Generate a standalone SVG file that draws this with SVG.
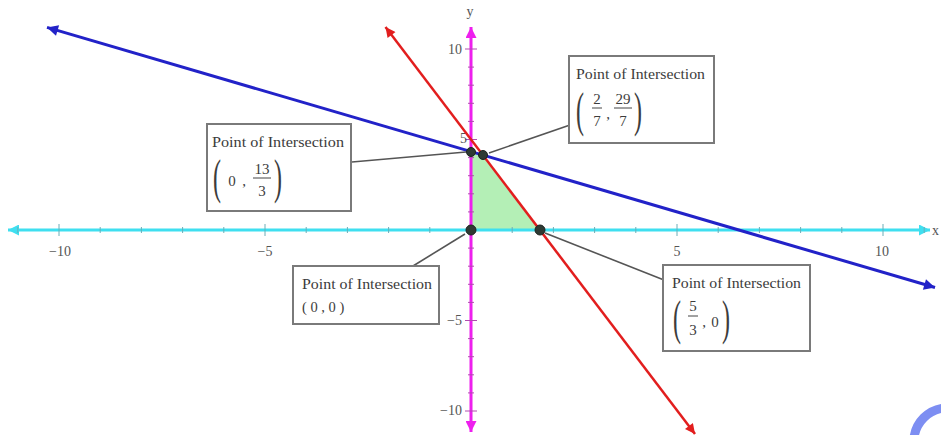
<svg xmlns="http://www.w3.org/2000/svg" width="941" height="435" viewBox="0 0 941 435">
<defs>
<style>
.lbl{font-family:"Liberation Serif","Times New Roman",serif;fill:#3c3c3c;}
.t{font-size:14.5px;}
.f{font-size:15px;}
.par{font-size:48px;}
.tick{font-family:"Liberation Serif","Times New Roman",serif;font-size:14px;fill:#555;}
.box{fill:#fff;stroke:#7a7a7a;stroke-width:2;}
.bar{stroke:#444;stroke-width:1;}
.lead{stroke:#555;stroke-width:1.6;fill:none;}
.dot{fill:#2e3a33;stroke:#1e2420;stroke-width:1;}
</style>
<marker id="aC" viewBox="0 0 10 10" refX="10" refY="5" markerWidth="15" markerHeight="11" markerUnits="userSpaceOnUse" orient="auto-start-reverse"><path d="M0,0 L10,5 L0,10 z" fill="#3fdff0"/></marker>
<marker id="aM" viewBox="0 0 10 10" refX="10" refY="5" markerWidth="15" markerHeight="11" markerUnits="userSpaceOnUse" orient="auto-start-reverse"><path d="M0,0 L10,5 L0,10 z" fill="#ee1fee"/></marker>
<marker id="aB" viewBox="0 0 10 10" refX="10" refY="5" markerWidth="15" markerHeight="11" markerUnits="userSpaceOnUse" orient="auto-start-reverse"><path d="M0,0 L10,5 L0,10 z" fill="#2222c8"/></marker>
<marker id="aR" viewBox="0 0 10 10" refX="10" refY="5" markerWidth="14" markerHeight="10" markerUnits="userSpaceOnUse" orient="auto-start-reverse"><path d="M0,0 L10,5 L0,10 z" fill="#e21e1e"/></marker>
</defs>
<rect width="941" height="435" fill="#fff"/>

<!-- feasible region -->
<polygon points="471,230 471,151.6 482.8,155 539.7,230" fill="#b4efb6"/>

<!-- x axis -->
<g id="x-axis">
<line x1="8" y1="230" x2="930" y2="230" stroke="#3fdff0" stroke-width="3" marker-start="url(#aC)" marker-end="url(#aC)"/>
<g stroke="#6aaeb8" stroke-width="1">
<line x1="59.0" y1="224" x2="59.0" y2="236"/><line x1="100.2" y1="227" x2="100.2" y2="233"/><line x1="141.4" y1="227" x2="141.4" y2="233"/><line x1="182.6" y1="227" x2="182.6" y2="233"/><line x1="223.8" y1="227" x2="223.8" y2="233"/>
<line x1="265.0" y1="224" x2="265.0" y2="236"/><line x1="306.2" y1="227" x2="306.2" y2="233"/><line x1="347.4" y1="227" x2="347.4" y2="233"/><line x1="388.6" y1="227" x2="388.6" y2="233"/><line x1="429.8" y1="227" x2="429.8" y2="233"/>
<line x1="512.2" y1="227" x2="512.2" y2="233"/><line x1="553.4" y1="227" x2="553.4" y2="233"/><line x1="594.6" y1="227" x2="594.6" y2="233"/><line x1="635.8" y1="227" x2="635.8" y2="233"/><line x1="677.0" y1="224" x2="677.0" y2="236"/>
<line x1="718.2" y1="227" x2="718.2" y2="233"/><line x1="759.4" y1="227" x2="759.4" y2="233"/><line x1="800.6" y1="227" x2="800.6" y2="233"/><line x1="841.8" y1="227" x2="841.8" y2="233"/><line x1="883.0" y1="224" x2="883.0" y2="236"/>
<line x1="17.8" y1="227" x2="17.8" y2="233"/><line x1="924.2" y1="227" x2="924.2" y2="233"/>
</g>
<text class="tick" x="60" y="256" text-anchor="middle">−10</text>
<text class="tick" x="265" y="256" text-anchor="middle">−5</text>
<text class="tick" x="677" y="256" text-anchor="middle">5</text>
<text class="tick" x="882" y="256" text-anchor="middle">10</text>
<text class="tick" x="932" y="235" font-size="12">x</text>
</g>

<!-- y axis -->
<g id="y-axis">
<line x1="471" y1="432" x2="471" y2="27" stroke="#ee1fee" stroke-width="3" marker-start="url(#aM)" marker-end="url(#aM)"/>
<g stroke="#b04cb0" stroke-width="1">
<line x1="465" y1="49" x2="477" y2="49"/><line x1="468" y1="67.1" x2="474" y2="67.1"/><line x1="468" y1="85.2" x2="474" y2="85.2"/><line x1="468" y1="103.3" x2="474" y2="103.3"/><line x1="468" y1="121.4" x2="474" y2="121.4"/>
<line x1="465" y1="139.5" x2="477" y2="139.5"/><line x1="468" y1="157.6" x2="474" y2="157.6"/><line x1="468" y1="175.7" x2="474" y2="175.7"/><line x1="468" y1="193.8" x2="474" y2="193.8"/><line x1="468" y1="211.9" x2="474" y2="211.9"/>
<line x1="468" y1="248.1" x2="474" y2="248.1"/><line x1="468" y1="266.2" x2="474" y2="266.2"/><line x1="468" y1="284.3" x2="474" y2="284.3"/><line x1="468" y1="302.4" x2="474" y2="302.4"/><line x1="465" y1="320.5" x2="477" y2="320.5"/>
<line x1="468" y1="338.6" x2="474" y2="338.6"/><line x1="468" y1="356.7" x2="474" y2="356.7"/><line x1="468" y1="374.8" x2="474" y2="374.8"/><line x1="468" y1="392.9" x2="474" y2="392.9"/><line x1="465" y1="411" x2="477" y2="411"/>
</g>
<text class="tick" x="462" y="54" text-anchor="end">10</text>
<text class="tick" x="467" y="143" text-anchor="end" font-size="11">5</text>
<text class="tick" x="462" y="325" text-anchor="end">−5</text>
<text class="tick" x="462" y="415" text-anchor="end">−10</text>
<text class="tick" x="470" y="16" text-anchor="middle">y</text>
</g>

<!-- lines -->
<g id="plot-lines">
<line x1="47" y1="27.4" x2="935" y2="287.5" stroke="#2222c8" stroke-width="3" marker-start="url(#aB)" marker-end="url(#aB)"/>
<line x1="385.5" y1="27" x2="695" y2="434" stroke="#e21e1e" stroke-width="2.5" marker-start="url(#aR)" marker-end="url(#aR)"/>
</g>

<!-- connectors -->
<g id="connectors">
<line class="lead" x1="352" y1="162" x2="466" y2="152"/>
<line class="lead" x1="489" y1="153" x2="570" y2="125"/>
<line class="lead" x1="413" y1="266" x2="465" y2="234"/>
<line class="lead" x1="545" y1="233" x2="664" y2="280"/>
</g>

<!-- points -->
<g id="pt-0-13-3"><circle class="dot" cx="471" cy="152" r="4.5"/></g>
<g id="pt-2-7-29-7"><circle class="dot" cx="483" cy="155" r="4.5"/></g>
<g id="pt-0-0"><circle class="dot" cx="471" cy="230" r="5"/></g>
<g id="pt-5-3-0"><circle class="dot" cx="540" cy="230" r="5"/></g>

<!-- labels -->
<g id="label-0-13-3">
<rect class="box" x="207" y="124" width="144" height="87"/>
<text class="lbl t" x="212" y="147" textLength="132" lengthAdjust="spacingAndGlyphs">Point of Intersection</text>
<text class="lbl par" x="213" y="193" transform="translate(213 0) scale(0.5 1) translate(-213 0)">(</text>
<text class="lbl f" x="232" y="186" text-anchor="middle">0</text>
<text class="lbl f" x="244" y="186" text-anchor="middle">,</text>
<text class="lbl f" x="262" y="174" text-anchor="middle">13</text>
<line class="bar" x1="253" y1="178" x2="271" y2="178"/>
<text class="lbl f" x="262" y="196" text-anchor="middle">3</text>
<text class="lbl par" x="274" y="193" transform="translate(274 0) scale(0.5 1) translate(-274 0)">)</text>
</g>

<g id="label-2-7-29-7">
<rect class="box" x="569" y="56" width="145" height="87"/>
<text class="lbl t" x="576" y="79" textLength="129" lengthAdjust="spacingAndGlyphs">Point of Intersection</text>
<text class="lbl par" x="576" y="126" transform="translate(576 0) scale(0.5 1) translate(-576 0)">(</text>
<text class="lbl f" x="597" y="104" text-anchor="middle">2</text>
<line class="bar" x1="592" y1="108" x2="602" y2="108"/>
<text class="lbl f" x="597" y="126" text-anchor="middle">7</text>
<text class="lbl f" x="608" y="119" text-anchor="middle">,</text>
<text class="lbl f" x="623" y="104" text-anchor="middle">29</text>
<line class="bar" x1="614" y1="108" x2="632" y2="108"/>
<text class="lbl f" x="623" y="126" text-anchor="middle">7</text>
<text class="lbl par" x="634" y="126" transform="translate(634 0) scale(0.5 1) translate(-634 0)">)</text>
</g>

<g id="label-0-0">
<rect class="box" x="293" y="266" width="146" height="58"/>
<text class="lbl t" x="302" y="289" textLength="130" lengthAdjust="spacingAndGlyphs">Point of Intersection</text>
<text class="lbl t" x="302" y="312" font-size="15">( 0 , 0 )</text>
</g>

<g id="label-5-3-0">
<rect class="box" x="663" y="265" width="147" height="86"/>
<text class="lbl t" x="672" y="288" textLength="129" lengthAdjust="spacingAndGlyphs">Point of Intersection</text>
<text class="lbl par" x="673" y="334" transform="translate(673 0) scale(0.5 1) translate(-673 0)">(</text>
<text class="lbl f" x="693" y="311" text-anchor="middle">5</text>
<line class="bar" x1="688" y1="316" x2="698" y2="316"/>
<text class="lbl f" x="693" y="335" text-anchor="middle">3</text>
<text class="lbl f" x="704" y="327" text-anchor="middle">,</text>
<text class="lbl f" x="715" y="327" text-anchor="middle">0</text>
<text class="lbl par" x="722" y="334" transform="translate(722 0) scale(0.5 1) translate(-722 0)">)</text>
</g>

<!-- corner mark -->
<path d="M 914 438 A 34 34 0 0 1 944 408" fill="none" stroke="#7d8ef2" stroke-width="9"/>
</svg>
